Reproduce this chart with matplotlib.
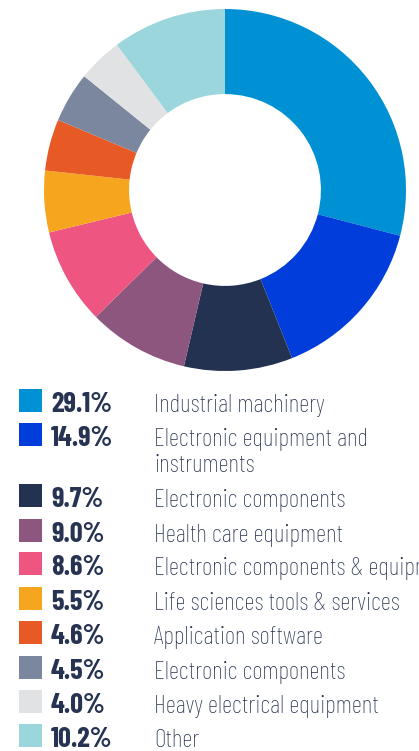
import matplotlib
matplotlib.use("Agg")
import matplotlib.pyplot as plt
from matplotlib.patches import Rectangle

# Sector weights (percent of portfolio)
sectors = [
    "Industrial machinery",
    "Electronic equipment and\ninstruments",
    "Electronic components",
    "Health care equipment",
    "Electronic components & equipment",
    "Life sciences tools & services",
    "Application software",
    "Electronic components",
    "Heavy electrical equipment",
    "Other",
]
weights = [29.1, 14.9, 9.7, 9.0, 8.6, 5.5, 4.6, 4.5, 4.0, 10.2]
colors = [
    "#0091D5", "#003DDB", "#233250", "#8D567E", "#EE5580",
    "#F6A51E", "#E85A25", "#7B869F", "#E1E2E3", "#9CD6DD",
]

FONT = "Barlow Condensed"
W, H = 419, 751
fig = plt.figure(figsize=(W / 100, H / 100), dpi=100)
fig.patch.set_facecolor("white")

# Donut
cx, cy, r = 225, 190, 181
ax = fig.add_axes([(cx - r) / W, 1 - (cy + r) / H, 2 * r / W, 2 * r / H])
ax.pie(weights, colors=colors, startangle=90, counterclock=False, radius=1,
       wedgeprops=dict(width=0.47, linewidth=0))
ax.set_xlim(-1, 1)
ax.set_ylim(-1, 1)
ax.set_aspect("equal")
ax.axis("off")

# Legend rows (baseline y in pixels from top)
text_color = "#263352"
baselines = [412, 446, 507, 542, 575, 610, 644, 679, 713, 747]
sq = 23
for name, w, c, yb in zip(sectors, weights, colors, baselines):
    fig.patches.append(Rectangle((19 / W, 1 - yb / H), sq / W, sq / H,
                                 transform=fig.transFigure, facecolor=c,
                                 edgecolor="none"))
    fig.text(51 / W, 1 - yb / H, f"{w:.1f}%", ha="left", va="baseline",
             fontsize=20.5, fontweight="bold", color=text_color, family=FONT)
    lines = name.split("\n")
    for k, line in enumerate(lines):
        fig.text(154 / W, 1 - (yb + 26 * k) / H, line, ha="left",
                 va="baseline", fontsize=18.3, fontweight="light",
                 color=text_color, family=FONT)

fig.savefig("out.png", dpi=100, facecolor="white")
